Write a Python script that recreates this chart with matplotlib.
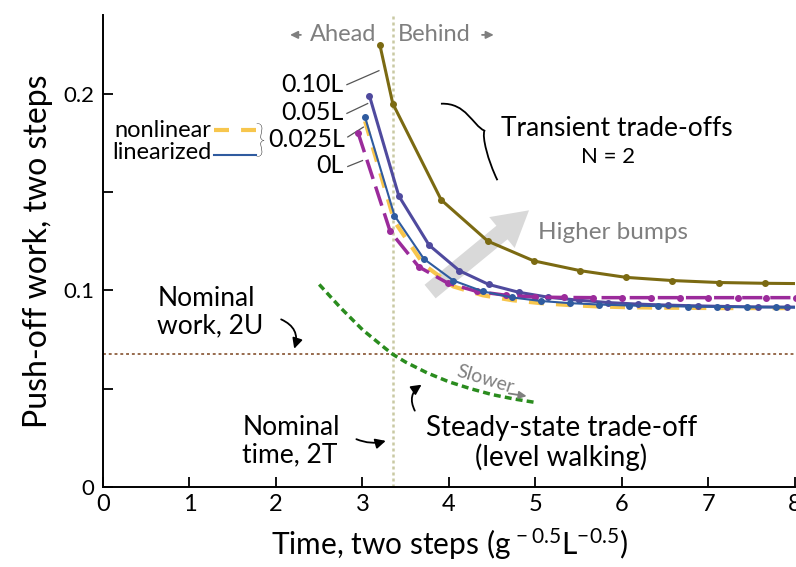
import matplotlib
matplotlib.use("Agg")
import matplotlib.pyplot as plt
from matplotlib.path import Path
from matplotlib.patches import PathPatch

plt.rcParams['font.family'] = ['Lato', 'DejaVu Sans']
plt.rcParams['mathtext.fontset'] = 'custom'
plt.rcParams['mathtext.rm'] = 'Lato'
plt.rcParams['mathtext.it'] = 'Lato:italic'

# bump height 0.10L
t_10 = [3.20, 3.35, 3.91, 4.45, 4.98, 5.52, 6.05, 6.58, 7.12, 7.65, 8.18]
w_10 = [0.225, 0.195, 0.146, 0.125, 0.115, 0.110, 0.1066, 0.105, 0.104, 0.1036, 0.1034]
# bump height 0.05L
t_05 = [3.08, 3.42, 3.77, 4.12, 4.46, 4.81, 5.15, 5.50, 5.84, 6.19, 6.53, 6.88, 7.22, 7.57, 7.91, 8.25]
w_05 = [0.199, 0.148, 0.123, 0.110, 0.103, 0.099, 0.0965, 0.0950, 0.0938, 0.0930, 0.0925,
        0.0921, 0.0918, 0.0916, 0.0915, 0.0915]
# bump height 0.025L, linearized and nonlinear
t_025 = [3.03, 3.37, 3.71, 4.05, 4.39, 4.73, 5.06, 5.40, 5.74, 6.08, 6.42, 6.76, 7.10, 7.44, 7.78, 8.12]
w_025 = [0.188, 0.138, 0.116, 0.105, 0.0995, 0.0964, 0.0946, 0.0935, 0.0928, 0.0923, 0.0920,
         0.0918, 0.0916, 0.0915, 0.0914, 0.0913]
w_025_nl = [0.186, 0.135, 0.113, 0.102, 0.0975, 0.0950, 0.0935, 0.0925, 0.0918, 0.0914, 0.0912,
            0.0911, 0.0910, 0.0910, 0.0910, 0.0910]
# bump height 0L
t_0 = [2.95, 3.32, 3.65, 3.99, 4.32, 4.66, 4.99, 5.33, 5.66, 6.00, 6.33, 6.67, 7.00, 7.34, 7.67, 8.01]
w_0 = [0.180, 0.130, 0.112, 0.1036, 0.0995, 0.0975, 0.0966, 0.0964, 0.0963, 0.0963, 0.0963,
       0.0963, 0.0963, 0.0963, 0.0963, 0.0963]
# steady-state level walking
t_ss = [2.50, 2.75, 3.00, 3.25, 3.35, 3.50, 3.75, 4.00, 4.25, 4.50, 4.75, 5.00]
w_ss = [0.103, 0.091, 0.080, 0.071, 0.0675, 0.0635, 0.058, 0.0535, 0.050, 0.047, 0.0448, 0.043]

nominal_time = 3.35
nominal_work = 0.0675

fig = plt.figure(figsize=(7.96, 5.67), dpi=100)
ax = fig.add_axes([0.1294, 0.141, 0.8693, 0.8325])

ax.axvline(nominal_time, color='#c9c9a3', lw=1.8, dashes=(1.2, 1.2), zorder=1)
ax.axhline(nominal_work, color='#8f5f3f', lw=1.3, dashes=(1.6, 1.6), zorder=1)

ax.annotate('', xy=(4.95, 0.1416), xytext=(3.757, 0.0985),
            arrowprops=dict(arrowstyle='simple,head_length=1.4,head_width=1.6,tail_width=0.7',
                            color='#d9d9d9', lw=0, mutation_scale=18), zorder=1)

ax.plot(t_ss, w_ss, color='#2a8c1e', lw=2.5, dashes=(2, 1.2), zorder=2)
ax.plot(t_10, w_10, color='#7b6a12', lw=2.2, marker='o', ms=4, zorder=3)
ax.plot(t_05, w_05, color='#4f4a9e', lw=2.2, marker='o', ms=4, zorder=4)
ax.plot(t_025, w_025_nl, color='#f7c64d', lw=3, dashes=(3.6, 2.9), zorder=3)
ax.plot(t_0, w_0, color='#9b2b9b', lw=2.5, dashes=(5.8, 2.3), marker='o', ms=4, zorder=4)
ax.plot(t_025, w_025, color='#2f5b9f', lw=1.5, marker='o', ms=4, zorder=5)

ax.set_xlim(0, 8)
ax.set_ylim(0, 0.24)
ax.set_xticks(range(9))
ax.set_yticks([0, 0.05, 0.1, 0.15, 0.2])
ax.set_yticklabels(['0', '', '0.1', '', '0.2'])
ax.tick_params(direction='in', length=7, width=1.3, labelsize=16, pad=6)
ax.tick_params(axis='x', labelsize=17, pad=5)
for s in ['top', 'right']:
    ax.spines[s].set_visible(False)
for s in ['left', 'bottom']:
    ax.spines[s].set_linewidth(1.4)

ax.set_xlabel(r'Time, two steps (g$^{\,-0.5}$L$^{-0.5}$)', fontsize=21.5, labelpad=8)
ax.set_ylabel('Push-off work, two steps', fontsize=23, labelpad=8)

# bump height labels with leader lines
labels = ['0.10L', '0.05L', '0.025L', '0L']
label_pos = [(2.78, 0.2045), (2.78, 0.1905), (2.80, 0.1765), (2.78, 0.1635)]
leaders = [((2.82, 0.2046), (3.19, 0.2117)), ((2.82, 0.190), (3.06, 0.195)),
           ((2.83, 0.178), (3.01, 0.183)), ((2.83, 0.163), (3.00, 0.166))]
for lab, (lx, ly), (p0, p1) in zip(labels, label_pos, leaders):
    ax.text(lx, ly, lab, fontsize=18, ha='right', va='center')
    ax.plot([p0[0], p1[0]], [p0[1], p1[1]], color='#555555', lw=0.9)

# legend
ax.text(1.25, 0.1815, 'nonlinear', fontsize=17, ha='right', va='center')
ax.text(1.25, 0.1700, 'linearized', fontsize=17, ha='right', va='center')
ax.plot([1.28, 1.77], [0.1815, 0.1815], color='#f7c64d', lw=3, dashes=(3.6, 2.9))
ax.plot([1.28, 1.77], [0.1688, 0.1688], color='#2f5b9f', lw=1.5)
ax.text(1.75, 0.1755, '}', fontsize=27, ha='left', va='center', fontweight='light')

# gray annotations
gray = '#7f7f7f'
ax.text(3.165, 0.2299, 'Ahead', fontsize=17, color=gray, ha='right', va='center')
ax.text(3.41, 0.2299, 'Behind', fontsize=17, color=gray, ha='left', va='center')
small = dict(arrowstyle='-|>,head_length=0.45,head_width=0.22', color=gray, lw=1.3)
ax.annotate('', xy=(2.13, 0.2299), xytext=(2.32, 0.2299), arrowprops=small)
ax.annotate('', xy=(4.55, 0.2299), xytext=(4.35, 0.2299), arrowprops=small)
ax.text(5.03, 0.1294, 'Higher bumps', fontsize=17.5, color=gray, ha='left', va='center')
ax.text(4.42, 0.0548, 'Slower', fontsize=14, color=gray, ha='center', va='center', rotation=-17)
ax.annotate('', xy=(4.93, 0.0460), xytext=(4.66, 0.0478), arrowprops=small)

# black annotations
ax.text(4.60, 0.1822, 'Transient trade-offs', fontsize=19, ha='left', va='center')
ax.text(5.84, 0.1680, 'N = 2', fontsize=16, ha='center', va='center')
brace = Path([(3.907, 0.1949), (4.20, 0.1955), (4.27, 0.1840), (4.41, 0.1812),
              (4.38, 0.1780), (4.45, 0.1660), (4.56, 0.1560)],
             [Path.MOVETO, Path.CURVE4, Path.CURVE4, Path.CURVE4,
              Path.CURVE4, Path.CURVE4, Path.CURVE4])
ax.add_patch(PathPatch(brace, fill=False, lw=1.3, color='black'))

arr = dict(arrowstyle='-|>,head_length=0.6,head_width=0.3', color='black', lw=1.3)
ax.text(0.626, 0.0888, 'Nominal\nwork, 2U', fontsize=19, ha='left', va='center', linespacing=1.1)
ax.annotate('', xy=(2.20, 0.0690), xytext=(2.03, 0.0858),
            arrowprops=dict(connectionstyle='arc3,rad=-0.5', **arr))
ax.text(1.61, 0.0234, 'Nominal\ntime, 2T', fontsize=19, ha='left', va='center', linespacing=1.1)
ax.annotate('', xy=(3.30, 0.0239), xytext=(2.90, 0.0249),
            arrowprops=dict(connectionstyle='arc3,rad=0.2', **arr))
ax.text(5.30, 0.0225, 'Steady-state trade-off\n(level walking)', fontsize=20,
        ha='center', va='center', linespacing=1.1)
ax.annotate('', xy=(3.71, 0.0528), xytext=(3.62, 0.0376),
            arrowprops=dict(connectionstyle='arc3,rad=-0.5', **arr))

fig.savefig('out.png', dpi=100)
